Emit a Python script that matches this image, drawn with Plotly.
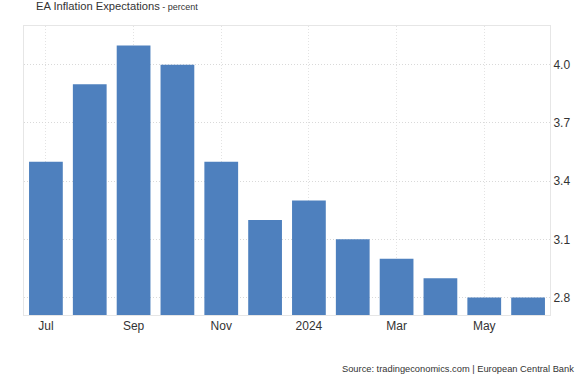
import plotly.graph_objects as go

months = ["2023-07", "2023-08", "2023-09", "2023-10", "2023-11", "2023-12",
          "2024-01", "2024-02", "2024-03", "2024-04", "2024-05", "2024-06"]
values = [3.5, 3.9, 4.1, 4.0, 3.5, 3.2, 3.3, 3.1, 3.0, 2.9, 2.8, 2.8]
tick_months = ["2023-07", "2023-09", "2023-11", "2024-01", "2024-03", "2024-05"]
tick_labels = ["Jul", "Sep", "Nov", "2024", "Mar", "May"]
y_ticks = [2.8, 3.1, 3.4, 3.7, 4.0]

W, H = 585, 375
L, R, T, B = 24, 35, 26, 60
PH = H - T - B
PW = W - L - R


def py(pix):
    return (H - B - pix) / PH


def px(pix):
    return (pix - L) / PW


fig = go.Figure(go.Bar(
    x=months, y=values,
    marker=dict(color="#4e80be", line=dict(width=0)),
))

fig.update_layout(
    width=W, height=H,
    margin=dict(l=L, r=R, t=T, b=B),
    paper_bgcolor="white", plot_bgcolor="white",
    bargap=0.23,
    showlegend=False,
    font=dict(family="Liberation Sans, Arial, sans-serif", color="#333333"),
    annotations=[
        dict(text="EA Inflation Expectations<span style='font-size:9px'> - percent</span>",
             xref="paper", yref="paper", x=px(35), y=py(-1.5), showarrow=False,
             xanchor="left", yanchor="top", borderpad=0,
             font=dict(size=11.2, color="#333333")),
        dict(text="Source: tradingeconomics.com | European Central Bank",
             xref="paper", yref="paper", x=px(576), y=py(376), showarrow=False,
             xanchor="right", yanchor="bottom", font=dict(size=9.3, color="#333333")),
    ],
    xaxis=dict(
        type="category",
        tickmode="array", tickvals=tick_months, ticktext=tick_labels,
        showgrid=True, gridcolor="#e3e3e3", griddash="1px,2px", gridwidth=1,
        showline=True, linecolor="#e6e6e6", mirror=True,
        ticks="", tickfont=dict(size=12, color="#333333"),
    ),
    yaxis=dict(
        side="right", range=[2.71, 4.2],
        tickmode="array", tickvals=y_ticks, ticktext=[f"{v:.1f}" for v in y_ticks],
        showgrid=True, gridcolor="#d9d9d9", griddash="1px,2px", gridwidth=1,
        showline=True, linecolor="#e6e6e6", mirror=True,
        zeroline=False, automargin=False,
        ticks="", tickfont=dict(size=12, color="#333333"),
    ),
)
fig.write_html("out.html", config={"displayModeBar": False},
               post_script="document.body.style.margin='0';")
